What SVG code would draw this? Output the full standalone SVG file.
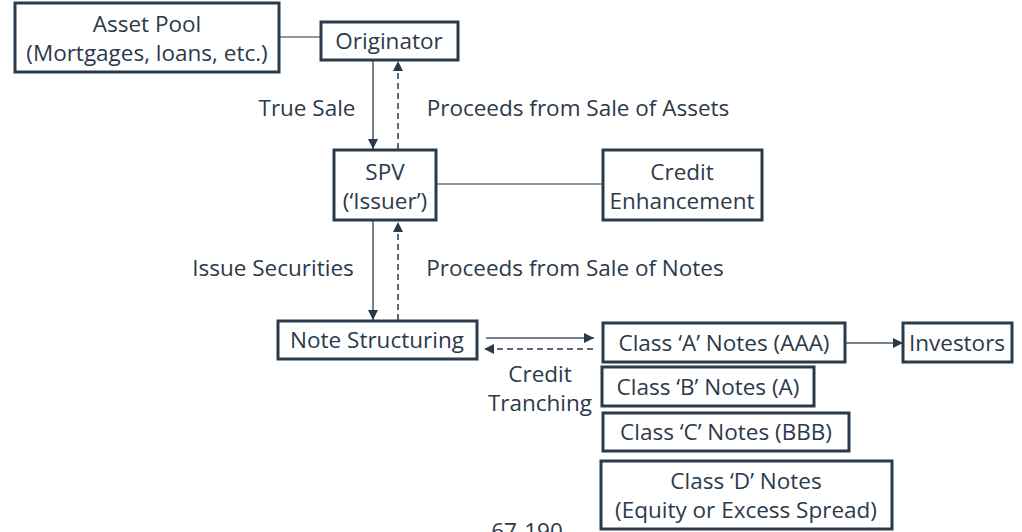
<svg xmlns="http://www.w3.org/2000/svg" width="1022" height="532" viewBox="0 0 1022 532">
<defs>
<marker id="ah" viewBox="0 0 10 10" refX="10" refY="5" markerWidth="10" markerHeight="10" markerUnits="userSpaceOnUse" orient="auto">
<path d="M0,0 L10,5 L0,10 z" fill="#2b3a4a"/>
</marker>
<style>
.box{fill:#fff;stroke:#2b3a4a;stroke-width:3}
.t{font-family:"Open Sans","Noto Sans","DejaVu Sans",sans-serif;font-size:22.5px;fill:#2b3a4a;text-anchor:middle}
.ln{stroke:#6b7785;stroke-width:1.5;fill:none}
.ar{stroke:#4a5765;stroke-width:1.5;fill:none;marker-end:url(#ah)}
.da{stroke:#2b3a4a;stroke-width:1.5;fill:none;stroke-dasharray:6,4;marker-end:url(#ah)}
</style>
</defs>
<rect width="1022" height="532" fill="#fff"/>
<g id="connectors">
<line class="ln" x1="279" y1="37" x2="321" y2="37"/>
<line class="ar" x1="373" y1="60" x2="373" y2="149"/>
<line class="da" x1="398" y1="149" x2="398" y2="61"/>
<line class="ln" x1="436" y1="184" x2="603" y2="184"/>
<line class="ar" x1="373" y1="221" x2="373" y2="320"/>
<line class="da" x1="398" y1="320" x2="398" y2="222"/>
<line class="ar" x1="486" y1="338" x2="594" y2="338"/>
<line class="da" x1="593" y1="349" x2="484" y2="349"/>
<line class="ar" x1="845" y1="343" x2="903" y2="343"/>
</g>
<g id="asset-pool"><rect class="box" x="15" y="3" width="264" height="69"/><text class="t" x="147" y="32">Asset Pool</text><text class="t" x="147" y="61">(Mortgages, loans, etc.)</text></g>
<g id="originator"><rect class="box" x="321" y="22" width="137" height="38"/><text class="t" x="389" y="49">Originator</text></g>
<g id="spv"><rect class="box" x="334" y="150" width="102" height="70"/><text class="t" x="385" y="180">SPV</text><text class="t" x="385" y="209">(‘Issuer’)</text></g>
<g id="credit-enhancement"><rect class="box" x="603" y="150" width="159" height="70"/><text class="t" x="682" y="180">Credit</text><text class="t" x="682" y="209">Enhancement</text></g>
<g id="note-structuring"><rect class="box" x="278" y="321" width="199" height="38"/><text class="t" x="377" y="348">Note Structuring</text></g>
<g id="class-a"><rect class="box" x="603" y="323" width="242" height="39"/><text class="t" x="724" y="351">Class ‘A’ Notes (AAA)</text></g>
<g id="investors"><rect class="box" x="903" y="323" width="109" height="39"/><text class="t" x="957" y="351">Investors</text></g>
<g id="class-b"><rect class="box" x="602" y="367" width="212" height="39"/><text class="t" x="708" y="395">Class ‘B’ Notes (A)</text></g>
<g id="class-c"><rect class="box" x="603" y="413" width="246" height="38"/><text class="t" x="726" y="440">Class ‘C’ Notes (BBB)</text></g>
<g id="class-d"><rect class="box" x="601" y="461" width="291" height="68"/><text class="t" x="746" y="489">Class ‘D’ Notes</text><text class="t" x="746" y="518">(Equity or Excess Spread)</text></g>
<g id="labels">
<text class="t" x="307" y="116">True Sale</text>
<text class="t" x="578" y="116">Proceeds from Sale of Assets</text>
<text class="t" x="273" y="276">Issue Securities</text>
<text class="t" x="575" y="276">Proceeds from Sale of Notes</text>
<text class="t" x="540" y="382">Credit</text>
<text class="t" x="540" y="411">Tranching</text>
<text class="t" x="527" y="539">67-190</text>
</g>
</svg>
